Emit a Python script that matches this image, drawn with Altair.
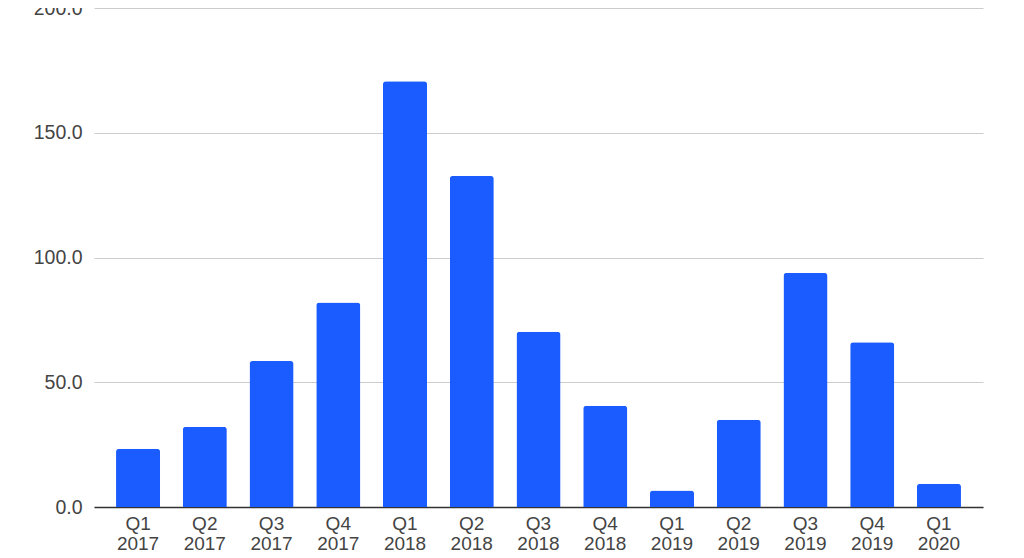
import altair as alt
import pandas as pd

quarters = ["Q1 2017", "Q2 2017", "Q3 2017", "Q4 2017", "Q1 2018", "Q2 2018", "Q3 2018",
            "Q4 2018", "Q1 2019", "Q2 2019", "Q3 2019", "Q4 2019", "Q1 2020"]
values = [23.3, 32.2, 58.5, 82.0, 170.6, 132.7, 70.2, 40.6, 6.6, 35.0, 93.8, 66.0, 9.3]

df = pd.DataFrame({"quarter": quarters, "value": values})

chart = alt.Chart(df).mark_bar(
    color="#1a5cff", cornerRadiusTopLeft=3, cornerRadiusTopRight=3
).encode(
    x=alt.X("quarter:N", sort=quarters, title=None,
            scale=alt.Scale(paddingInner=0.34, paddingOuter=0.33),
            axis=alt.Axis(labelAngle=0, labelExpr="split(datum.label, ' ')",
                          labelFont="Liberation Sans", labelFontSize=19, labelColor="#444444",
                          labelLineHeight=20.5, labelPadding=7, ticks=False,
                          domainColor="#333333", domainWidth=1.5, grid=False)),
    y=alt.Y("value:Q", title=None,
            scale=alt.Scale(domain=[0, 200], nice=False),
            axis=alt.Axis(values=[0, 50, 100, 150, 200], format=".1f",
                          labelFont="Liberation Sans", labelFontSize=19.5, labelColor="#444444",
                          labelPadding=12, ticks=False, domain=False,
                          gridColor="#cccccc", gridWidth=1)),
).properties(
    width=889, height=499,
    autosize=alt.AutoSizeParams(type="none"),
    padding={"left": 86, "top": 0, "right": 30, "bottom": 50},
).configure_view(stroke=None)

chart.save("out.html", embed_options={"renderer": "svg", "actions": False})
